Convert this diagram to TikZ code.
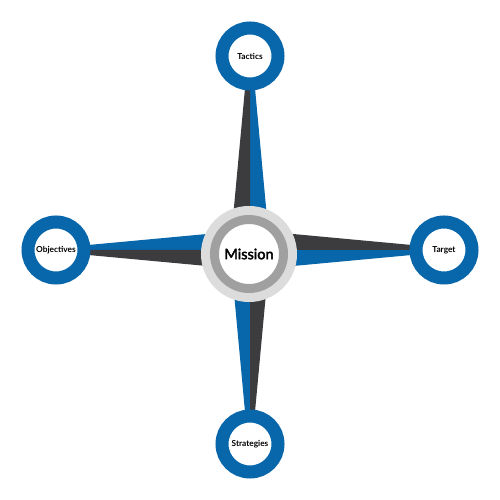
\documentclass[tikz,border=0pt]{standalone}
\usepackage{fontspec}
\setmainfont{Lato}
\newfontfamily\missionfont[FakeBold=2.5]{Lato}
\usetikzlibrary{calc}
\usetikzlibrary{positioning}
\usetikzlibrary{backgrounds}

\definecolor{ringblue}{HTML}{0866AB}
\definecolor{armgray}{HTML}{3C3B3D}
\definecolor{hublight}{HTML}{DCDCDC}
\definecolor{hubring}{HTML}{A0A0A0}

\tikzset{
  goal/.style={circle,draw=ringblue,line width=13pt,fill=white,minimum size=56pt,inner sep=0pt,
    font=\bfseries\fontsize{8.3}{10}\selectfont},
  core/.style={circle,preaction={draw=hublight,line width=27pt},draw=hubring,line width=9pt,
    fill=white,minimum size=69pt,inner sep=0pt,font=\missionfont\fontsize{14.5}{17}\selectfont}
}

\begin{document}
\begin{tikzpicture}[x=1pt,y=1pt]
\useasboundingbox (0,0) rectangle (500,500);

\coordinate (hub) at (250,250);
\node[goal] (tac) at (250,444) {Tactics};
\node[goal] (tar) at (444,250) {Target};
\node[goal] (str) at (250,56) {Strategies};
\node[goal] (obj) at (56,250) {Objectives};
\node[core] (mis) at (249,246) {Mission};

% the four arms, blue on the clockwise side
\begin{scope}[on background layer]
\foreach \g in {tac,tar,str,obj}{
  \fill[ringblue] (hub) -- ($(hub)!20pt!-90:(\g.center)$) -- ($(\g.center)!2pt!90:(hub)$) -- (\g.center) -- cycle;
  \fill[armgray] (hub) -- ($(hub)!20pt!90:(\g.center)$) -- ($(\g.center)!2pt!-90:(hub)$) -- (\g.center) -- cycle;
}
\end{scope}

\end{tikzpicture}
\end{document}
